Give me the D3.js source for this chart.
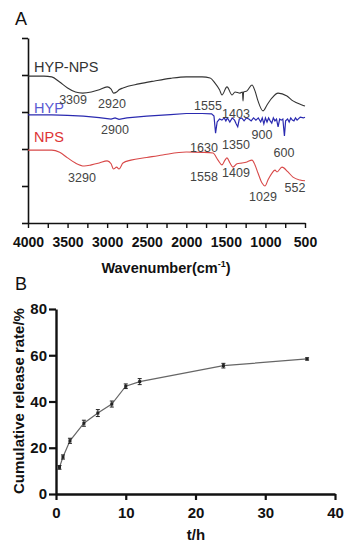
<!DOCTYPE html>
<html><head><meta charset="utf-8">
<script src="https://cdn.jsdelivr.net/npm/d3@7"></script>
<style>body{margin:0;background:#fff}svg{display:block;font-family:"Liberation Sans",Arial,sans-serif}</style>
</head><body>
<svg id="c" width="352" height="550"></svg>
<script>
// ---------- Panel A: FTIR spectra (wavenumber, relative transmittance offset) ----------
const hypNps = [[4000,3.97],[3800,3.97],[3700,3.95],[3600,3.81],[3500,3.65],[3400,3.54],[3309,3.51],[3200,3.54],[3100,3.60],[3000,3.68],[2950,3.62],[2920,3.51],[2880,3.54],[2850,3.60],[2800,3.65],[2600,3.76],[2400,3.84],[2200,3.91],[2000,3.95],[1800,3.95],[1700,3.92],[1637,3.78],[1580,3.60],[1549,3.46],[1486,3.68],[1422,3.46],[1384,3.54],[1321,3.51],[1290,3.54],[1283,3.30],[1276,3.54],[1233,3.57],[1170,3.73],[1132,3.57],[1094,3.30],[1031,3.03],[980,3.19],[917,3.38],[841,3.51],[728,3.43],[652,3.30],[538,3.19],[500,3.16]];
const hyp = [[4000,2.92],[3700,2.92],[3500,2.91],[3300,2.89],[3100,2.85],[2950,2.81],[2900,2.84],[2850,2.80],[2750,2.84],[2500,2.89],[2200,2.93],[2000,2.96],[1800,2.96],[1680,2.95],[1650,2.89],[1630,2.43],[1610,2.73],[1580,2.81],[1550,2.78],[1520,2.84],[1500,2.76],[1480,2.84],[1450,2.73],[1420,2.84],[1390,2.78],[1370,2.68],[1350,2.60],[1330,2.81],[1300,2.84],[1270,2.76],[1240,2.84],[1210,2.81],[1180,2.76],[1150,2.84],[1120,2.78],[1090,2.84],[1060,2.73],[1040,2.84],[1020,2.68],[1000,2.84],[980,2.73],[960,2.84],[940,2.76],[920,2.70],[900,2.84],[880,2.76],[860,2.81],[840,2.60],[820,2.81],[800,2.78],[780,2.81],[760,2.35],[745,2.76],[720,2.81],[700,2.73],[680,2.84],[660,2.78],[640,2.76],[620,2.84],[600,2.78],[560,2.86],[520,2.84],[500,2.86]];
const nps = [[4000,1.97],[3700,1.97],[3600,1.91],[3500,1.76],[3400,1.62],[3290,1.54],[3200,1.57],[3100,1.62],[3000,1.68],[2950,1.60],[2920,1.46],[2880,1.51],[2850,1.46],[2800,1.62],[2700,1.70],[2500,1.77],[2300,1.84],[2000,1.92],[1800,1.91],[1663,1.89],[1599,1.70],[1549,1.57],[1511,1.70],[1486,1.76],[1448,1.62],[1410,1.51],[1359,1.60],[1296,1.62],[1233,1.65],[1170,1.70],[1132,1.57],[1094,1.35],[1043,1.08],[1006,1.00],[968,1.16],[917,1.35],[879,1.43],[854,1.38],[791,1.51],[715,1.38],[652,1.24],[563,1.16],[500,1.14]];
const seriesNames = ["HYP-NPS","HYP","NPS"];
const peakTexts = ["3309","2920","1555","1403","2900","1630","1350","900","600","3290","1558","1409","1029","552"];
const peakAnchorW = [3431,2939,1726,1372,2901,1776,1372,1043,765,3318,1776,1372,1031,626];
const peakAnchorV = [3.22,3.11,3.05,2.84,2.41,1.92,2.00,2.27,1.78,1.11,1.14,1.24,0.59,0.84];
const wnTicks = d3.range(4000,499,-250);

// ---------- Panel B: cumulative release ----------
const tHours = [0.5,1,2,4,6,8,10,12,24,36];
const release = [11.5,16,23,30.6,35,38.9,46.6,48.6,55.5,58.4];
const releaseErr = [0.8,0.9,1.1,1.3,1.5,1.3,1.0,1.3,1.0,0.5];
const tTicks = [0,10,20,30,40];
const rTicks = [0,20,40,60,80];

const svg = d3.select("#c");
svg.append("rect").attr("width",352).attr("height",550).attr("fill","#fff");

// ===== Panel A =====
const xA = d3.scaleLinear().domain([4000,500]).range([28,305]);
const yA = d3.scaleLinear().domain([0,5]).range([223,38]);
const gA = svg.append("g");
gA.append("text").attr("x",15).attr("y",25).attr("font-size",18).attr("fill","#111").text("A");

const yAxA = gA.append("g").attr("transform",`translate(28,0)`)
  .call(d3.axisLeft(yA).tickValues([0,1,2,3,4,5]).tickFormat("").tickSize(6).tickSizeOuter(0));
yAxA.select(".domain").attr("stroke","#111").attr("stroke-width",1.6);
yAxA.selectAll(".tick line").attr("stroke","#111").attr("stroke-width",1.6);

const xAxA = gA.append("g").attr("transform",`translate(0,223)`)
  .call(d3.axisBottom(xA).tickValues(wnTicks).tickSize(5).tickSizeOuter(0).tickPadding(9)
    .tickFormat(d => d % 500 === 0 ? d : ""));
xAxA.select(".domain").attr("stroke","#111").attr("stroke-width",1.6);
xAxA.selectAll(".tick line").attr("stroke","#111").attr("stroke-width",1.4);
xAxA.selectAll(".tick text").attr("font-size",14).attr("font-weight","bold").attr("fill","#111")
  .attr("font-family","Liberation Sans, Arial, sans-serif");

const tl = gA.append("text").attr("x",166).attr("y",273).attr("text-anchor","middle")
  .attr("font-size",14.5).attr("font-weight","bold").attr("fill","#111");
tl.append("tspan").text("Wavenumber(cm");
tl.append("tspan").attr("dy",-6).attr("font-size",9).text("-1");
tl.append("tspan").attr("dy",6).text(")");

const lineA = d3.line().x(d=>xA(d[0])).y(d=>yA(d[1]));
gA.append("path").datum(hypNps).attr("d",lineA.curve(d3.curveMonotoneX)).attr("fill","none").attr("stroke","#333").attr("stroke-width",1.1);
gA.append("path").datum(hyp).attr("d",d3.line().x(d=>xA(d[0])).y(d=>yA(d[1]))).attr("fill","none").attr("stroke","#2a2ab0").attr("stroke-width",1.2);
gA.append("path").datum(nps).attr("d",lineA.curve(d3.curveMonotoneX)).attr("fill","none").attr("stroke","#d84848").attr("stroke-width",1.1);

const nameColors = ["#333","#5a5ad2","#dd3535"];
const nameV = [4.08,2.98,2.19];
seriesNames.forEach((n,i)=>{
  gA.append("text").attr("x",34).attr("y",yA(nameV[i])).attr("font-size",14.5).attr("fill",nameColors[i]).text(n);
});
peakTexts.forEach((t,i)=>{
  gA.append("text").attr("x",xA(peakAnchorW[i])).attr("y",yA(peakAnchorV[i]))
    .attr("text-anchor","middle").attr("font-size",12.5).attr("fill","#444").text(t);
});

// ===== Panel B =====
const xB = d3.scaleLinear().domain([0,40]).range([56,335]);
const yB = d3.scaleLinear().domain([0,80]).range([494,309]);
const gB = svg.append("g");
gB.append("text").attr("x",15).attr("y",290).attr("font-size",18).attr("fill","#111").text("B");

const yAxB = gB.append("g").attr("transform",`translate(56,0)`)
  .call(d3.axisLeft(yB).tickValues(rTicks).tickSize(7).tickSizeOuter(0).tickPadding(2));
const xAxB = gB.append("g").attr("transform",`translate(0,494)`)
  .call(d3.axisBottom(xB).tickValues(tTicks).tickSize(6).tickSizeOuter(0).tickPadding(7));
[yAxB,xAxB].forEach(a=>{
  a.select(".domain").attr("stroke","#111").attr("stroke-width",2.4);
  a.selectAll(".tick line").attr("stroke","#111").attr("stroke-width",2.2);
  a.selectAll(".tick text").attr("font-size",15).attr("font-weight","bold").attr("fill","#111")
   .attr("font-family","Liberation Sans, Arial, sans-serif");
});
gB.append("text").attr("x",196).attr("y",540).attr("text-anchor","middle").attr("font-size",15)
  .attr("font-weight","bold").attr("fill","#111").text("t/h");
gB.append("text").attr("transform","translate(24,401) rotate(-90)").attr("text-anchor","middle")
  .attr("font-size",15).attr("font-weight","bold").attr("fill","#111").text("Cumulative release rate/%");

const rel = tHours.map((t,i)=>({t, v:release[i], e:releaseErr[i]}));
gB.append("path").datum(rel).attr("d",d3.line().x(d=>xB(d.t)).y(d=>yB(d.v)))
  .attr("fill","none").attr("stroke","#666").attr("stroke-width",1.2);
const eb = gB.selectAll(".eb").data(rel).join("g");
eb.append("line").attr("x1",d=>xB(d.t)).attr("x2",d=>xB(d.t)).attr("y1",d=>yB(d.v+d.e)).attr("y2",d=>yB(d.v-d.e)).attr("stroke","#222").attr("stroke-width",1);
eb.append("line").attr("x1",d=>xB(d.t)-2).attr("x2",d=>xB(d.t)+2).attr("y1",d=>yB(d.v+d.e)).attr("y2",d=>yB(d.v+d.e)).attr("stroke","#222").attr("stroke-width",1);
eb.append("line").attr("x1",d=>xB(d.t)-2).attr("x2",d=>xB(d.t)+2).attr("y1",d=>yB(d.v-d.e)).attr("y2",d=>yB(d.v-d.e)).attr("stroke","#222").attr("stroke-width",1);
eb.append("rect").attr("x",d=>xB(d.t)-1.5).attr("y",d=>yB(d.v)-1.5).attr("width",3).attr("height",3).attr("fill","#222");
</script>
</body></html>
